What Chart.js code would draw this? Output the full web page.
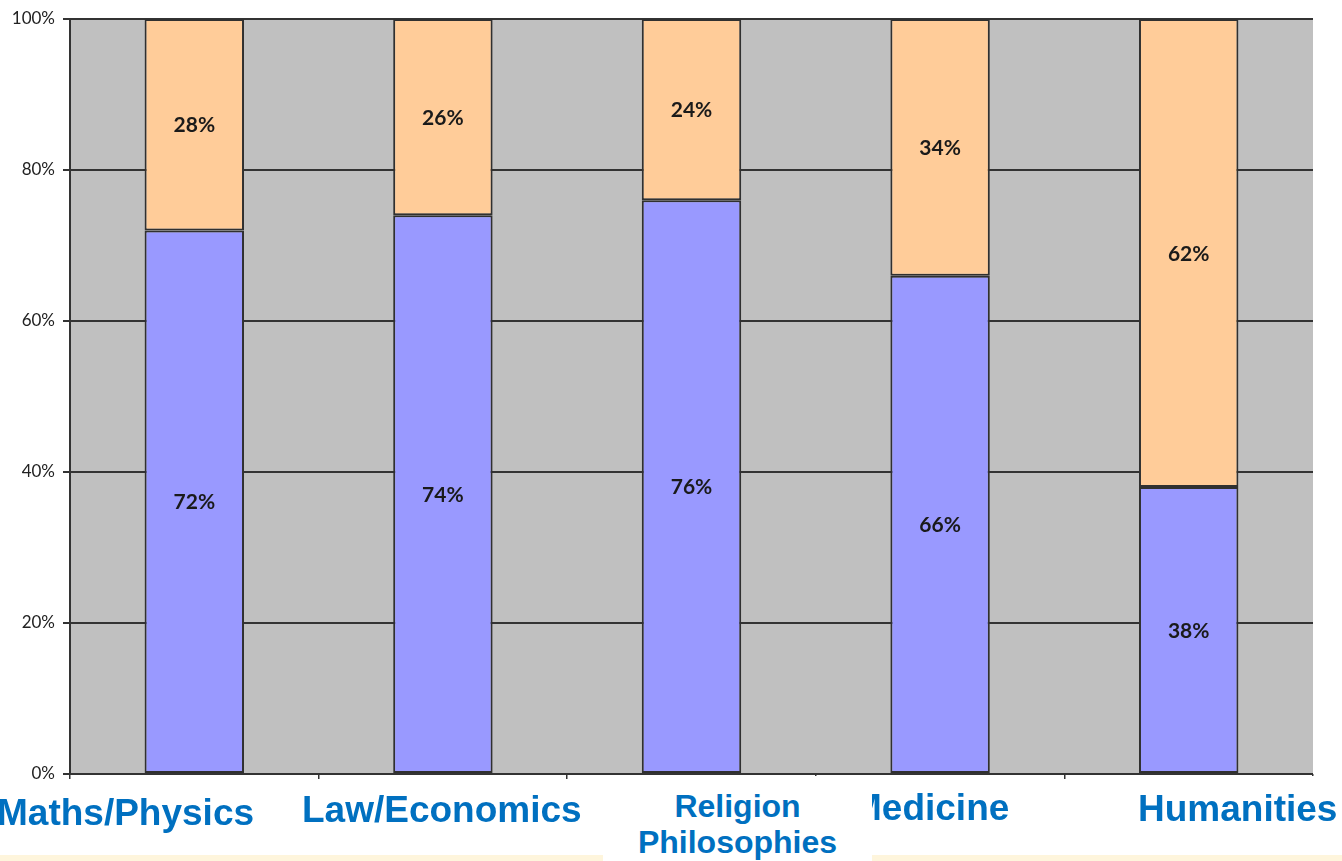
<!DOCTYPE html>
<html>
<head>
<meta charset="utf-8">
<script src="https://cdn.jsdelivr.net/npm/chart.js@4.4.1/dist/chart.umd.min.js"></script>
<style>
  html, body { margin: 0; padding: 0; background: #ffffff; }
  #wrap { position: relative; width: 1342px; height: 861px; overflow: hidden; }
  #chart { position: absolute; left: 0; top: 0; }
  .cat {
    position: absolute;
    font-family: "Liberation Sans", Arial, sans-serif;
    font-weight: bold;
    font-size: 37px;
    line-height: 40px;
    color: #0070c0;
    white-space: nowrap;
  }
  #strip { position: absolute; left: 0; top: 855px; width: 1342px; height: 6px; background: #fef5dc; }
  #cover { position: absolute; left: 1105px; top: 776px; width: 237px; height: 79px; background: #ffffff; }
  #religion {
    position: absolute; left: 603px; top: 776px; width: 269px; height: 85px;
    background: #ffffff; text-align: center;
  }
  #religion .cat { position: static; font-size: 32px; line-height: 36px; padding-top: 12px; }
</style>
</head>
<body>
<div id="wrap">
  <canvas id="chart" width="1342" height="861"></canvas>
  <div id="strip"></div>
  <div id="cover"></div>
  <div class="cat" id="lab0" style="left:-3px; top:793px;"></div>
  <div class="cat" id="lab1" style="left:302px; top:790px;"></div>
  <div class="cat" id="lab3" style="left:851px; top:788px;"></div>
  <div class="cat" id="lab4" style="left:1138px; top:789px;"></div>
  <div id="religion"><div class="cat" id="lab2"></div></div>
</div>
<script>
// categories and values (percent)
const categories = ['Maths/Physics', 'Law/Economics', 'Religion\nPhilosophies', 'Medicine', 'Humanities'];
const bluePart = [72, 74, 76, 66, 38];
const orangePart = [28, 26, 24, 34, 62];
const yTicks = [0, 20, 40, 60, 80, 100];

// category labels as real text below the plot
categories.forEach((c, i) => {
    const el = document.getElementById('lab' + i);
    el.innerHTML = c.split('\n').join('<br>');
});

const plotBackground = {
    id: 'plotBackground',
    beforeDraw(chart) {
        const { ctx, chartArea: a } = chart;
        ctx.save();
        ctx.fillStyle = '#c0c0c0';
        ctx.fillRect(a.left, a.top, a.right - a.left, a.bottom - a.top);
        ctx.restore();
    }
};

const valueLabels = {
    id: 'valueLabels',
    afterDatasetsDraw(chart) {
        const ctx = chart.ctx;
        ctx.save();
        ctx.font = 'bold 21px Lato, "Open Sans", sans-serif';
        ctx.fillStyle = '#1a1a1a';
        ctx.textAlign = 'center';
        ctx.textBaseline = 'middle';
        chart.data.datasets.forEach((ds, di) => {
            chart.getDatasetMeta(di).data.forEach((bar, i) => {
                ctx.fillText(ds.data[i] + '%', bar.x, (bar.y + bar.base) / 2 + 1);
            });
        });
        ctx.restore();
    }
};

new Chart(document.getElementById('chart'), {
    type: 'bar',
    data: {
        labels: categories,
        datasets: [
            {
                data: bluePart,
                backgroundColor: '#9999ff',
                borderColor: '#303030',
                borderWidth: 2,
                borderSkipped: false,
                barPercentage: 0.4,
                categoryPercentage: 1
            },
            {
                data: orangePart,
                backgroundColor: '#ffcc99',
                borderColor: '#303030',
                borderWidth: 2,
                borderSkipped: false,
                barPercentage: 0.4,
                categoryPercentage: 1
            }
        ]
    },
    options: {
        responsive: false,
        animation: false,
        layout: { padding: { top: 19, right: 29, bottom: 0, left: 0 } },
        plugins: {
            legend: { display: false },
            tooltip: { enabled: false }
        },
        scales: {
            x: {
                stacked: true,
                offset: true,
                ticks: { display: false },
                grid: { drawOnChartArea: false, drawTicks: true, tickLength: 5, color: '#333333', lineWidth: 1.5 },
                border: { display: false },
                afterFit(scale) { scale.height = 87; }
            },
            y: {
                stacked: true,
                min: 0,
                max: 100,
                afterBuildTicks(scale) { scale.ticks = yTicks.map(v => ({ value: v })); },
                ticks: {
                    padding: 8,
                    color: '#222222',
                    font: { family: 'Lato, "Open Sans", sans-serif', size: 17 },
                    callback: v => v + '%'
                },
                grid: { color: '#333333', lineWidth: 2, tickLength: 7 },
                border: { display: true, color: '#333333', width: 2 },
                afterFit(scale) { scale.width = 70; }
            }
        }
    },
    plugins: [plotBackground, valueLabels]
});
</script>
</body>
</html>
